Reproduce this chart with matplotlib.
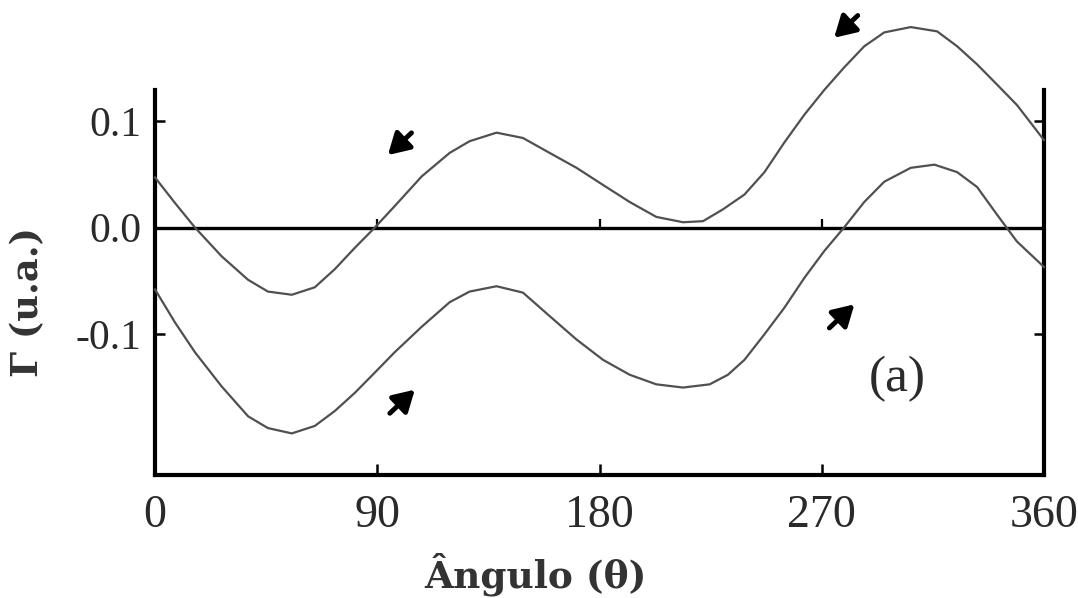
import matplotlib
matplotlib.use("Agg")
import matplotlib.pyplot as plt

# values (angle in degrees, Gamma in a.u.)
theta_up = [0, 8.1, 16.2, 27, 37.7, 45.7, 55.4, 64.7, 72.8, 80.9, 89, 97, 108,
            119.3, 127.4, 138.3, 149, 159.8, 170.7, 181.4, 192.2, 203, 213.8,
            221.9, 229.9, 238.7, 246.8, 254.9, 263, 271, 279, 287.2, 295.3, 306,
            316.7, 324.8, 332.9, 341, 349, 360]
gamma_up = [0.047, 0.023, 0.0, -0.027, -0.049, -0.060, -0.063, -0.056, -0.039,
            -0.019, 0.0, 0.020, 0.048, 0.070, 0.081, 0.089, 0.084, 0.070, 0.056,
            0.040, 0.024, 0.010, 0.005, 0.006, 0.017, 0.031, 0.052, 0.080, 0.106,
            0.129, 0.150, 0.170, 0.183, 0.188, 0.184, 0.170, 0.153, 0.134, 0.115,
            0.082]

theta_low = [0, 8.1, 16.2, 27, 37.7, 45.7, 55.4, 64.7, 72.8, 80.9, 89, 97, 108,
             119.3, 127.4, 138.3, 149, 159.8, 170.7, 181.4, 192.2, 203, 213.8,
             224.6, 232, 238.7, 246.8, 254.9, 263, 271, 279, 287.2, 295.3, 306,
             315.6, 324.8, 332.9, 341, 349, 360]
gamma_low = [-0.058, -0.089, -0.117, -0.149, -0.177, -0.188, -0.193, -0.186,
             -0.172, -0.155, -0.136, -0.117, -0.093, -0.070, -0.060, -0.055, -0.061,
             -0.083, -0.105, -0.124, -0.138, -0.147, -0.150, -0.147, -0.138, -0.124,
             -0.100, -0.075, -0.047, -0.022, 0.0, 0.024, 0.043, 0.056, 0.059, 0.052,
             0.038, 0.012, -0.013, -0.037]

x_ticks = [0, 90, 180, 270, 360]
y_ticks = [-0.1, 0.0, 0.1]
y_ticklabels = ["-0.1", "0.0", "0.1"]

serif = "Liberation Serif"
grey_txt = "#2a2a2a"
curve_col = "#505050"

fig = plt.figure(figsize=(10.78, 5.98), dpi=100)
ax = fig.add_axes([0.1438, 0.2057, 0.8247, 0.6438])

ax.plot(theta_up, gamma_up, color=curve_col, lw=1.6, clip_on=False, zorder=3,
        solid_joinstyle="round")
ax.plot(theta_low, gamma_low, color=curve_col, lw=1.6, clip_on=False, zorder=3,
        solid_joinstyle="round")

ax.axhline(0, color="black", lw=2.4, zorder=2)
# little upward ticks on the zero line
ax.vlines(x_ticks[1:-1], 0, 0.008, color="black", lw=1.6, zorder=2)

ax.set_xlim(0, 360)
ax.set_ylim(-0.232, 0.129)

ax.spines["top"].set_visible(False)
for s in ["left", "right", "bottom"]:
    ax.spines[s].set_linewidth(3.0)
    ax.spines[s].set_color("black")

ax.set_xticks(x_ticks)
ax.set_xticklabels([str(v) for v in x_ticks])
ax.set_yticks(y_ticks)
ax.set_yticklabels(y_ticklabels)
ax.tick_params(axis="x", direction="in", length=8, width=1.8, pad=14,
               labelsize=33, labelcolor=grey_txt)
ax.tick_params(axis="y", direction="in", length=7, width=1.8, pad=10,
               labelsize=30, labelcolor=grey_txt, right=True)
for lab in ax.get_xticklabels() + ax.get_yticklabels():
    lab.set_family(serif)

# direction arrows
arrow = dict(arrowstyle="-|>,head_length=0.6,head_width=0.35", color="black",
             lw=3.5, shrinkA=0, shrinkB=0, mutation_scale=21)
for tip in [(94.3, 0.068), (275.0, 0.178)]:
    ax.annotate("", xy=tip, xytext=(17, 16), textcoords="offset points",
                arrowprops=arrow, annotation_clip=False)
for tip in [(105.2, -0.152), (283.2, -0.072)]:
    ax.annotate("", xy=tip, xytext=(-18, -17), textcoords="offset points",
                arrowprops=arrow, annotation_clip=False)

ax.text(300.6, -0.142, "(a)", family=serif, fontsize=37, color=grey_txt,
        ha="center", va="center")

fig.text(28 / 1078, 1 - 302 / 598, "Γ (u.a.)", rotation=90, ha="center", va="center",
         family="DejaVu Serif", weight="bold", fontsize=26.5, color="#333333")
fig.text(535 / 1078, 1 - 574 / 598, "Ângulo (θ)", ha="center", va="center",
         family="DejaVu Serif", weight="bold", fontsize=27, color="#333333")

fig.savefig("out.png", dpi=100)
